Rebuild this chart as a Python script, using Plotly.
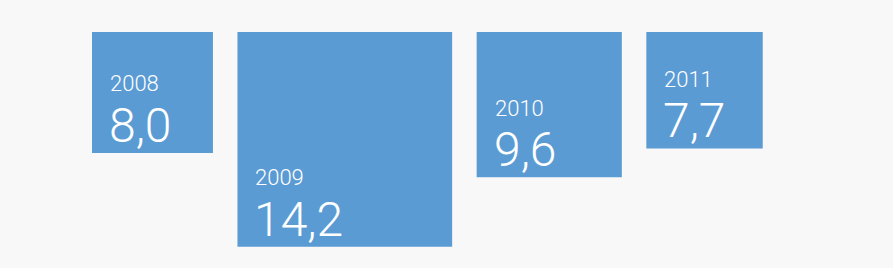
import plotly.graph_objects as go

years = ["2008", "2009", "2010", "2011"]
values = [8.0, 14.2, 9.6, 7.7]

W, H = 893, 268
PX = 15.12          # pixels per value unit (square side = value)
BLUE = "#5b9bd4"
BG = "#f8f8f8"
FONT = "Roboto"

left0 = 92 / PX
top0 = 32 / PX
gap = 24.5 / PX

fig = go.Figure()
x = left0
for yr, v in zip(years, values):
    fig.add_shape(type="rect", xref="x", yref="y", x0=x, x1=x + v, y0=top0, y1=top0 + v,
                  fillcolor=BLUE, line=dict(width=0), layer="below")
    bottom = top0 + v
    tx = x + 16 / PX
    fig.add_annotation(x=tx, y=bottom - 69 / PX, xref="x", yref="y", text=yr,
                       showarrow=False, xanchor="left", yanchor="middle",
                       font=dict(family=FONT, size=22, color="white", weight=300))
    fig.add_annotation(x=tx - 1 / PX, y=bottom - 27.5 / PX, xref="x", yref="y",
                       text=f"{v:.1f}".replace(".", ","),
                       showarrow=False, xanchor="left", yanchor="middle",
                       font=dict(family=FONT, size=48, color="white", weight=300))
    x += v + gap

fig.update_layout(
    width=W, height=H, margin=dict(l=0, r=0, t=0, b=0),
    paper_bgcolor=BG, plot_bgcolor=BG, showlegend=False,
    xaxis=dict(range=[0, W / PX], visible=False, fixedrange=True),
    yaxis=dict(range=[H / PX, 0], visible=False, fixedrange=True),
)
fig.write_html("out.html")
